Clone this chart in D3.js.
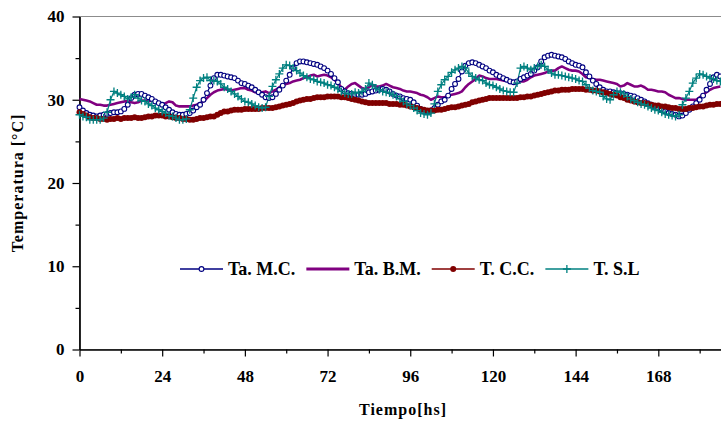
<!DOCTYPE html>
<html>
<head>
<meta charset="utf-8">
<script src="https://cdn.jsdelivr.net/npm/d3@7"></script>
<style>
    body { margin: 0; background: #fff; }
    svg { display: block; font-family: 'Liberation Serif', 'Times New Roman', serif; font-weight: bold; }
</style>
</head>
<body>
<div id="chart"></div>
<script>
// hourly readings, 0 .. 186 hs
const hours = d3.range(0, 187);

const ta_mc = [
    29.1, 28.7, 28.4, 28.2, 28.1, 28.0, 28.1, 28.2, 28.3, 28.4, 28.5, 28.5, 28.6, 28.9, 29.4, 30.2, 30.6, 30.7, 30.7, 30.5,
    30.3, 30.1, 29.8, 29.6, 29.4, 29.1, 28.8, 28.5, 28.3, 28.2, 28.2, 28.3, 28.4, 28.7, 29.1, 29.4, 30.0, 30.8, 31.7, 32.6,
    33.0, 33.0, 32.9, 32.8, 32.7, 32.6, 32.3, 32.0, 31.9, 31.7, 31.5, 31.2, 30.9, 30.6, 30.3, 30.2, 30.3, 30.7, 31.2, 31.7,
    32.3, 33.0, 33.8, 34.4, 34.6, 34.6, 34.5, 34.4, 34.3, 34.2, 34.0, 33.8, 33.5, 33.1, 32.6, 32.1, 31.3, 31.0, 30.8, 30.7,
    30.6, 30.6, 30.6, 30.7, 30.9, 31.0, 31.1, 31.2, 31.3, 31.2, 31.0, 30.7, 30.5, 30.4, 30.2, 30.1, 30.0, 29.7, 29.3, 28.9,
    28.6, 28.6, 28.7, 29.0, 29.4, 29.8, 30.0, 30.5, 31.3, 31.9, 32.5, 33.4, 34.1, 34.4, 34.5, 34.4, 34.2, 34.0, 33.8, 33.5,
    33.3, 33.0, 32.8, 32.6, 32.4, 32.2, 32.1, 32.2, 32.5, 32.7, 32.9, 33.1, 33.5, 33.9, 34.6, 35.1, 35.3, 35.4, 35.3, 35.2,
    35.1, 34.9, 34.6, 34.4, 34.2, 34.1, 33.9, 33.3, 32.8, 32.3, 31.9, 31.5, 31.2, 31.0, 31.0, 30.9, 30.8, 30.8, 30.7, 30.6,
    30.5, 30.4, 30.2, 30.0, 29.8, 29.6, 29.4, 29.2, 29.0, 28.8, 28.6, 28.4, 28.3, 28.2, 28.0, 28.1, 28.4, 28.8, 29.2, 29.6,
    30.0, 30.5, 31.2, 31.9, 32.7, 33.0, 32.8
];

const ta_bm = [
    30.1, 30.0, 29.9, 29.8, 29.6, 29.4, 29.4, 29.3, 29.3, 29.4, 29.5, 29.6, 29.7, 29.8, 29.8, 29.7, 29.6, 29.7, 29.9, 29.9,
    29.8, 29.9, 29.9, 29.7, 29.4, 29.6, 29.8, 29.7, 29.3, 29.2, 29.2, 29.2, 29.2, 29.3, 29.4, 29.6, 29.8, 30.2, 30.6, 30.9,
    31.1, 31.2, 31.3, 31.2, 31.1, 31.2, 31.3, 31.4, 31.4, 31.2, 31.1, 30.9, 30.8, 30.9, 31.0, 30.8, 31.0, 31.2, 31.5, 31.7,
    31.9, 32.0, 32.2, 32.3, 32.4, 32.6, 32.7, 32.9, 33.0, 32.8, 32.9, 33.0, 32.9, 32.7, 32.4, 32.0, 31.5, 31.2, 31.6, 31.9,
    32.0, 31.7, 31.4, 31.3, 31.5, 31.8, 31.6, 31.6, 31.7, 31.9, 31.7, 31.5, 31.4, 31.3, 31.1, 31.0, 31.0, 30.9, 30.8, 30.6,
    30.5, 30.3, 30.0, 30.2, 30.4, 30.3, 30.3, 30.5, 30.6, 30.7, 30.8, 31.0, 31.5, 31.9, 32.2, 32.5, 32.9, 32.8, 32.6, 32.5,
    32.5, 32.5, 32.4, 32.3, 32.3, 32.1, 32.0, 32.0, 32.2, 32.2, 32.4, 32.7, 32.9, 33.0, 33.1, 33.2, 33.4, 33.5, 33.5, 33.8,
    34.0, 33.8, 33.6, 33.5, 33.5, 33.4, 33.1, 32.7, 32.6, 32.5, 32.4, 32.4, 32.3, 32.2, 32.1, 32.0, 31.9, 31.6, 31.7, 32.0,
    31.8, 31.6, 31.6, 31.7, 31.5, 31.2, 31.2, 31.1, 31.0, 31.0, 30.9, 30.6, 30.4, 30.2, 30.2, 30.1, 30.0, 30.0, 30.0, 30.0,
    30.3, 30.6, 30.9, 31.2, 31.4, 31.5, 31.6
];

const t_cc = [
    28.5, 28.3, 28.1, 27.9, 27.8, 27.8, 27.7, 27.7, 27.6, 27.7, 27.7, 27.8, 27.7, 27.8, 27.8, 27.8, 27.9, 27.8, 27.8, 27.9,
    28.0, 28.0, 28.1, 28.1, 28.1, 28.0, 28.0, 27.9, 27.8, 27.8, 27.7, 27.7, 27.6, 27.6, 27.7, 27.8, 27.8, 27.9, 28.0, 28.0,
    28.2, 28.4, 28.6, 28.6, 28.7, 28.8, 28.8, 28.8, 28.9, 28.9, 28.9, 28.9, 28.9, 29.0, 29.0, 29.0, 29.0, 29.1, 29.2, 29.3,
    29.4, 29.5, 29.6, 29.8, 29.9, 30.0, 30.1, 30.1, 30.2, 30.3, 30.3, 30.3, 30.4, 30.4, 30.4, 30.4, 30.3, 30.3, 30.2, 30.1,
    30.0, 29.9, 29.8, 29.7, 29.6, 29.6, 29.6, 29.6, 29.6, 29.6, 29.5, 29.5, 29.5, 29.4, 29.4, 29.3, 29.2, 29.1, 29.0, 28.9,
    28.8, 28.7, 28.7, 28.7, 28.8, 28.8, 28.9, 29.0, 29.1, 29.1, 29.2, 29.3, 29.4, 29.5, 29.7, 29.8, 29.9, 30.0, 30.1, 30.2,
    30.2, 30.2, 30.2, 30.2, 30.2, 30.2, 30.2, 30.2, 30.3, 30.3, 30.4, 30.4, 30.5, 30.6, 30.7, 30.8, 30.9, 31.0, 31.1, 31.1,
    31.2, 31.2, 31.2, 31.3, 31.3, 31.3, 31.3, 31.2, 31.2, 31.1, 31.1, 31.0, 30.9, 30.8, 30.7, 30.6, 30.5, 30.3, 30.2, 30.0,
    29.9, 29.8, 29.7, 29.6, 29.6, 29.5, 29.4, 29.3, 29.3, 29.2, 29.2, 29.1, 29.0, 29.0, 28.9, 28.9, 28.9, 29.0, 29.0, 29.1,
    29.2, 29.2, 29.3, 29.4, 29.4, 29.5, 29.5
];

const t_sl = [
    28.2, 28.0, 27.9, 27.6, 27.6, 27.6, 27.6, 27.8, 28.5, 30.0, 31.0, 30.8, 30.6, 30.4, 30.1, 30.3, 30.6, 30.2, 29.9, 29.8,
    29.5, 29.3, 29.0, 28.8, 28.6, 28.4, 28.1, 28.0, 27.8, 27.6, 27.6, 27.7, 28.8, 30.2, 31.5, 32.3, 32.6, 32.7, 32.3, 32.3,
    32.2, 31.9, 31.5, 31.3, 31.0, 30.7, 30.4, 30.1, 29.8, 29.7, 29.5, 29.3, 29.1, 29.0, 29.1, 30.4, 31.6, 32.4, 33.1, 33.8,
    34.2, 34.1, 33.8, 33.5, 33.2, 32.9, 32.7, 32.5, 32.4, 32.2, 32.1, 32.0, 31.8, 31.7, 31.5, 31.3, 31.0, 30.8, 30.7, 30.7,
    30.9, 30.8, 31.0, 31.3, 32.0, 31.8, 31.4, 31.2, 31.0, 30.9, 30.8, 30.6, 30.4, 30.1, 29.8, 29.5, 29.3, 29.0, 28.7, 28.4,
    28.3, 28.2, 28.4, 29.5, 31.0, 31.8, 32.4, 32.8, 33.3, 33.6, 33.8, 34.0, 33.8, 33.2, 32.8, 32.6, 32.4, 32.3, 32.0, 31.8,
    31.7, 31.5, 31.3, 31.1, 31.0, 30.9, 30.9, 32.0, 33.8, 34.0, 33.8, 33.6, 33.8, 34.0, 34.2, 34.0, 33.6, 33.2, 33.0, 33.0,
    32.9, 32.8, 32.7, 32.6, 32.5, 32.3, 32.2, 31.8, 31.4, 31.1, 31.0, 30.9, 30.4, 30.1, 30.0, 30.6, 31.0, 30.9, 30.7, 30.4,
    30.1, 29.9, 29.7, 29.5, 29.4, 29.2, 29.0, 28.8, 28.7, 28.5, 28.3, 28.2, 28.1, 28.0, 28.2, 29.4, 30.2, 31.0, 32.0, 32.6,
    33.1, 33.0, 32.8, 32.6, 32.5, 32.3, 32.2
];

const series_names = ['Ta. M.C.', 'Ta. B.M.', 'T. C.C.', 'T. S.L'];
const x_ticks = [0, 24, 48, 72, 96, 120, 144, 168];
const x_minor = [12, 36, 60, 84, 108, 132, 156, 180];
const y_ticks = [0, 10, 20, 30, 40];
const y_minor = [5, 15, 25, 35];

const chart_width = 721;
const chart_height = 423;

const svg = d3.select('#chart')
    .append('svg')
    .attr('width', chart_width)
    .attr('height', chart_height);

const x_scale = d3.scaleLinear()
    .domain([0, 192])
    .range([79.5, 741]);

const y_scale = d3.scaleLinear()
    .domain([0, 40])
    .range([349.5, 16.5]);

// plot area frame (right side falls outside the picture)
svg.append('rect')
    .attr('x', x_scale(0))
    .attr('y', y_scale(40))
    .attr('width', x_scale(192) - x_scale(0))
    .attr('height', y_scale(0) - y_scale(40))
    .attr('fill', 'none')
    .attr('stroke', '#8c8c8c')
    .attr('stroke-width', 1);

// Axes
const x_axis = d3.axisBottom(x_scale)
    .tickValues(x_ticks)
    .tickSize(7)
    .tickSizeOuter(0)
    .tickPadding(13)
    .tickFormat(d3.format('d'));

const x_axis_minor = d3.axisBottom(x_scale)
    .tickValues(x_minor)
    .tickSize(4)
    .tickSizeOuter(0)
    .tickFormat('');

const y_axis = d3.axisLeft(y_scale)
    .tickValues(y_ticks)
    .tickSize(7)
    .tickSizeOuter(0)
    .tickPadding(8);

const y_axis_minor = d3.axisLeft(y_scale)
    .tickValues(y_minor)
    .tickSize(4)
    .tickSizeOuter(0)
    .tickFormat('');

[x_axis, x_axis_minor].forEach(ax => {
    svg.append('g')
        .attr('class', 'axis')
        .attr('transform', `translate(0, ${y_scale(0)})`)
        .call(ax);
});

[y_axis, y_axis_minor].forEach(ax => {
    svg.append('g')
        .attr('class', 'axis')
        .attr('transform', `translate(${x_scale(0)}, 0)`)
        .call(ax);
});

svg.selectAll('.axis path, .axis line')
    .attr('stroke', '#000')
    .attr('stroke-width', 1.2);

svg.selectAll('.axis text')
    .attr('font-family', "'Liberation Serif', 'Times New Roman', serif")
    .attr('font-weight', 'bold')
    .attr('font-size', 17)
    .attr('fill', '#000');

// Axis titles
svg.append('text')
    .attr('x', 403)
    .attr('y', 415)
    .attr('text-anchor', 'middle')
    .attr('font-size', 16)
    .attr('letter-spacing', 1)
    .text('Tiempo[hs]');

svg.append('text')
    .attr('transform', `translate(23, ${(y_scale(0) + y_scale(40)) / 2}) rotate(-90)`)
    .attr('text-anchor', 'middle')
    .attr('font-size', 16)
    .attr('letter-spacing', 1)
    .text('Temperatura [°C]');

// Series
const series = [
    { name: series_names[0], values: ta_mc, color: '#000080', width: 1.2, marker: 'circle' },
    { name: series_names[1], values: ta_bm, color: '#800080', width: 2.6, marker: 'none' },
    { name: series_names[2], values: t_cc, color: '#800000', width: 1.5, marker: 'dot' },
    { name: series_names[3], values: t_sl, color: '#008080', width: 1.2, marker: 'plus' }
];

const line = d3.line()
    .x((d, i) => x_scale(hours[i]))
    .y(d => y_scale(d));

const plot = svg.append('g').attr('id', 'plot-area');

plot.selectAll('path.series')
    .data(series)
    .enter()
    .append('path')
    .attr('class', 'series')
    .attr('d', d => line(d.values))
    .attr('fill', 'none')
    .attr('stroke', d => d.color)
    .attr('stroke-width', d => d.width)
    .attr('stroke-linejoin', 'round');

function draw_marker(g, kind, color) {
    if (kind === 'circle') {
        g.append('circle')
            .attr('r', 2.4)
            .attr('fill', '#fff')
            .attr('stroke', color)
            .attr('stroke-width', 1.1);
    } else if (kind === 'dot') {
        g.append('circle')
            .attr('r', 3)
            .attr('fill', color);
    } else if (kind === 'plus') {
        g.append('path')
            .attr('d', 'M-4,0H4M0,-4V4')
            .attr('stroke', color)
            .attr('stroke-width', 1.3);
    }
}

series.forEach(s => {
    if (s.marker === 'none') return;
    plot.append('g')
        .selectAll('g')
        .data(s.values)
        .enter()
        .append('g')
        .attr('transform', (d, i) => `translate(${x_scale(hours[i])}, ${y_scale(d)})`)
        .each(function () { draw_marker(d3.select(this), s.marker, s.color); });
});

// Legend
const legend = svg.append('g')
    .attr('transform', 'translate(180, 269)');

let legend_x = 0;
series.forEach(s => {
    const item = legend.append('g')
        .attr('transform', `translate(${legend_x}, 0)`);
    item.append('line')
        .attr('x1', 0)
        .attr('x2', 43)
        .attr('stroke', s.color)
        .attr('stroke-width', s.marker === 'none' ? 3 : 1.5);
    const m = item.append('g').attr('transform', 'translate(21.5, 0)');
    draw_marker(m, s.marker, s.color);
    const label = item.append('text')
        .attr('x', 48)
        .attr('y', 6)
        .attr('font-size', 18)
        .text(s.name);
    legend_x += 48 + label.node().getComputedTextLength() + 11;
});
</script>
</body>
</html>
